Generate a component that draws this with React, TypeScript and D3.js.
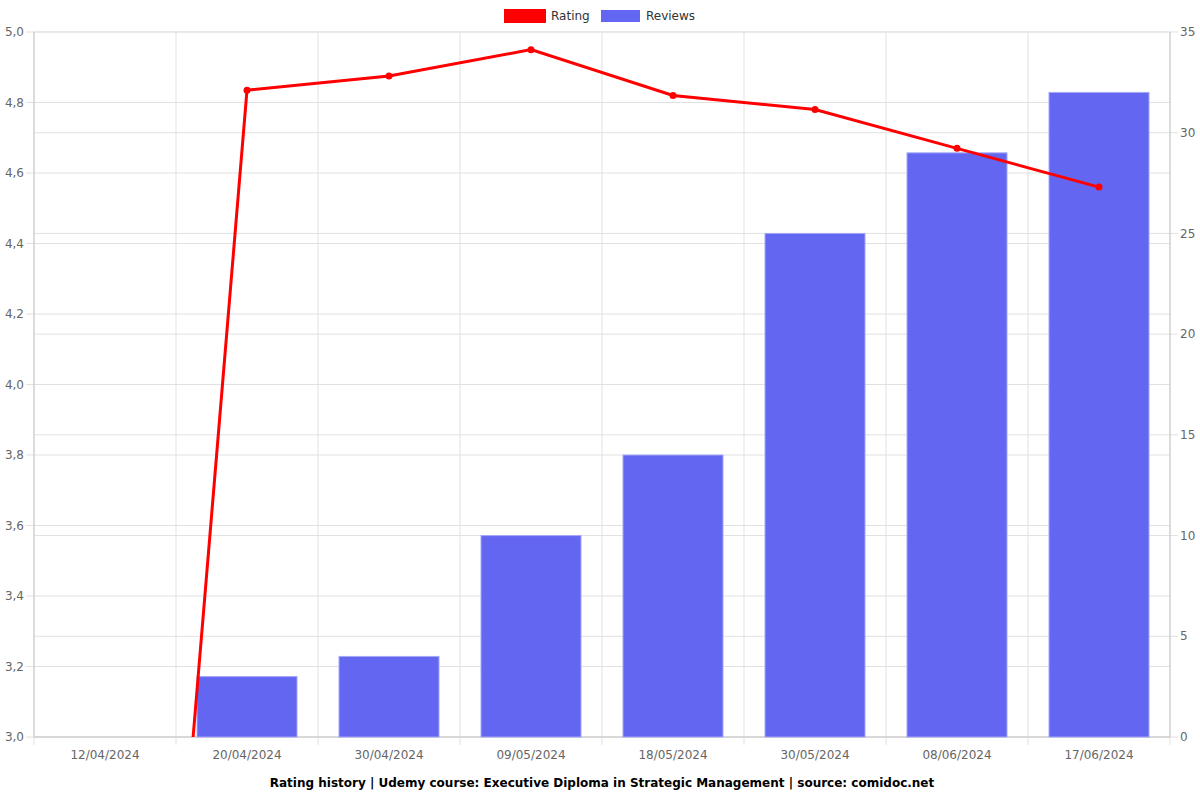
import React from "react";
import * as d3 from "d3";

const categories = ["12/04/2024", "20/04/2024", "30/04/2024", "09/05/2024", "18/05/2024", "30/05/2024", "08/06/2024", "17/06/2024"];
const ratingValues = [0, 4.835, 4.875, 4.95, 4.82, 4.78, 4.67, 4.56];
const reviewValues = [0, 3, 4, 10, 14, 25, 29, 32];
const leftTicks = [3.0, 3.2, 3.4, 3.6, 3.8, 4.0, 4.2, 4.4, 4.6, 4.8, 5.0];
const rightTicks = [0, 5, 10, 15, 20, 25, 30, 35];
const title = "Rating history | Udemy course: Executive Diploma in Strategic Management | source: comidoc.net";

export default function App() {
  const W = 1200, H = 800;
  const left = 34, right = 1170, top = 32, bottom = 737;
  const x = d3.scaleBand<string>().domain(categories).range([left, right]);
  const yL = d3.scaleLinear().domain([3, 5]).range([bottom, top]);
  const yR = d3.scaleLinear().domain([0, 35]).range([bottom, top]);
  const cx = (c: string) => (x(c) as number) + x.bandwidth() / 2;
  const barW = 100;
  const line = d3.line<number>().x((_, i) => cx(categories[i])).y((v) => yL(v));
  const font = "DejaVu Sans, sans-serif";
  const bounds = categories.map((c) => x(c) as number).concat([right]);
  return (
    <svg width={W} height={H} style={{ position: "absolute", left: 0, top: 0, background: "#fff" }}>
      <defs>
        <clipPath id="plot">
          <rect x={left} y={top - 5} width={right - left} height={bottom - top + 5} />
        </clipPath>
      </defs>
      {leftTicks.map((t) => (
        <line key={"gl" + t} x1={left} x2={right} y1={yL(t)} y2={yL(t)} stroke="#e1e1e1" strokeWidth={1} />
      ))}
      {rightTicks.map((t) => (
        <line key={"gr" + t} x1={left} x2={right} y1={yR(t)} y2={yR(t)} stroke="#e1e1e1" strokeWidth={1} />
      ))}
      {bounds.map((b, i) => (
        <line key={"v" + i} x1={b} x2={b} y1={top} y2={bottom + 8} stroke="#e1e1e1" strokeWidth={1} />
      ))}
      {leftTicks.map((t) => (
        <g key={"lt" + t}>
          <line x1={left - 8} x2={left} y1={yL(t)} y2={yL(t)} stroke="#e1e1e1" />
          <text x={left - 10} y={yL(t)} dy="0.35em" textAnchor="end" fontSize={12} fill="#666" fontFamily={font}>
            {t.toFixed(1).replace(".", ",")}
          </text>
        </g>
      ))}
      {rightTicks.map((t) => (
        <g key={"rt" + t}>
          <line x1={right} x2={right + 8} y1={yR(t)} y2={yR(t)} stroke="#e1e1e1" />
          <text x={right + 10} y={yR(t)} dy="0.35em" textAnchor="start" fontSize={12} fill="#666" fontFamily={font}>
            {t}
          </text>
        </g>
      ))}
      <line x1={left} x2={left} y1={top} y2={bottom} stroke="#c8c8c8" />
      <line x1={right} x2={right} y1={top} y2={bottom} stroke="#c8c8c8" />
      <line x1={left} x2={right} y1={bottom} y2={bottom} stroke="#c8c8c8" />
      {reviewValues.map((v, i) =>
        v > 0 ? (
          <rect
            key={"b" + i}
            x={cx(categories[i]) - barW / 2}
            y={yR(v)}
            width={barW}
            height={yR(0) - yR(v)}
            fill="#6366f1"
            stroke="#a5a7f7"
            strokeWidth={1}
          />
        ) : null
      )}
      {categories.map((c) => (
        <text key={c} x={cx(c)} y={bottom + 22} textAnchor="middle" fontSize={12} fill="#666" fontFamily={font}>
          {c}
        </text>
      ))}
      <g clipPath="url(#plot)">
        <path d={line(ratingValues) || ""} fill="none" stroke="#ff0000" strokeWidth={3} />
        {ratingValues.map((v, i) =>
          v >= 3 ? <circle key={"p" + i} cx={cx(categories[i])} cy={yL(v)} r={3.5} fill="#ff0000" /> : null
        )}
      </g>
      <rect x={504} y={9} width={42} height={14} fill="#ff0000" />
      <text x={551} y={16} dy="0.35em" fontSize={12} fill="#333" fontFamily={font}>Rating</text>
      <rect x={601} y={10} width={39} height={12} fill="#6366f1" />
      <text x={646} y={16} dy="0.35em" fontSize={12} fill="#333" fontFamily={font}>Reviews</text>
      <text x={(left + right) / 2} y={787} textAnchor="middle" fontSize={12} fontWeight="bold" fill="#000" fontFamily={font}>
        {title}
      </text>
    </svg>
  );
}
